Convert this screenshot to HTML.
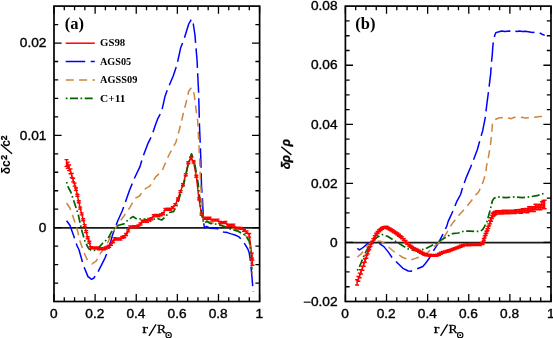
<!DOCTYPE html>
<html><head><meta charset="utf-8"><title>Sound speed and density differences</title>
<style>
html,body{margin:0;padding:0;background:#fff;}
body{width:553px;height:338px;overflow:hidden;position:relative;font-family:"Liberation Sans",sans-serif;}
</style></head><body>
<svg width="553" height="338" viewBox="0 0 553 338" style="display:block;position:absolute;left:0;top:0;will-change:transform">
<rect width="553" height="338" fill="#fff"/>
<path d="M54.0,227.85H259.6M345.4,242.64H551.0" stroke="#1a1a1a" stroke-width="1.6"/>
<path d="M66.5,163.0 L67.8,165.2 L69.1,167.8 L70.5,171.3 L71.8,175.6 L73.2,180.1 L74.6,184.6 L76.0,189.2 L77.4,195.3 L78.8,201.8 L80.2,208.1 L81.7,213.9 L83.2,219.8 L84.7,225.6 L86.2,231.6 L87.7,237.7 L89.3,242.2 L90.8,247.8 L92.4,247.9 L94.0,247.9 L95.6,248.0 L97.3,248.0 L98.9,248.7 L100.6,248.7 L102.3,248.9 L104.0,248.7 L105.7,248.0 L107.5,247.1 L109.2,246.2 L111.0,244.2 L112.9,241.8 L114.7,238.8 L116.5,239.0 L118.4,238.9 L120.3,239.0 L122.2,237.4 L124.2,236.7 L126.1,234.5 L128.1,230.9 L130.1,226.9 L132.1,226.9 L134.2,226.8 L136.3,226.9 L138.4,225.9 L140.5,224.0 L142.6,221.2 L144.8,221.1 L147.0,221.2 L149.2,219.4 L151.4,218.7 L153.7,215.7 L156.0,215.5 L158.3,215.7 L160.7,214.9 L163.0,213.7 L165.4,209.4 L167.9,209.3 L170.3,209.2 L172.8,207.6 L175.3,204.6 L177.9,199.0 L180.4,191.6 L183.0,184.7 L185.7,174.7 L188.3,162.8 L191.0,158.3 L193.6,162.0 L196.3,176.2 L198.9,198.9 L201.6,214.3 L204.2,218.3 L206.9,218.2 L209.5,218.2 L212.2,220.1 L214.8,220.1 L217.5,220.1 L220.1,222.5 L222.8,222.6 L225.4,222.5 L228.1,225.3 L230.7,225.3 L233.4,225.1 L236.0,228.1 L238.7,228.1 L241.3,228.4 L244.0,230.4 L246.6,232.0 L249.3,235.3 L251.9,255.6 L252.4,262.6" fill="none" stroke="#ff0000" stroke-width="1.5" stroke-linejoin="round"/>
<path d="M357.1,282.4 L358.4,278.9 L359.7,275.4 L361.0,271.8 L362.4,268.3 L363.7,264.4 L365.0,260.5 L366.4,256.8 L367.8,252.6 L369.2,248.8 L370.5,245.6 L371.9,242.5 L373.4,239.6 L374.8,236.8 L376.2,234.3 L377.6,232.5 L379.1,230.8 L380.6,229.5 L382.0,228.4 L383.5,227.6 L385.0,227.5 L386.5,227.3 L388.0,228.1 L389.6,229.0 L391.1,229.9 L392.6,230.8 L394.2,231.9 L395.8,232.9 L397.4,234.0 L399.0,235.3 L400.6,236.6 L402.2,237.9 L403.8,239.6 L405.5,241.5 L407.1,243.4 L408.8,245.1 L410.5,246.3 L412.1,247.4 L413.8,248.6 L415.6,249.4 L417.3,250.3 L419.0,251.2 L420.8,252.2 L422.6,253.2 L424.3,254.3 L426.1,254.8 L427.9,255.1 L429.7,255.3 L431.6,255.4 L433.4,255.4 L435.3,255.4 L437.2,255.1 L439.0,254.2 L440.9,253.2 L442.9,252.4 L444.8,251.9 L446.7,251.4 L448.7,250.8 L450.7,250.1 L452.6,249.4 L454.6,248.6 L456.7,247.9 L458.7,247.1 L460.7,246.3 L462.8,245.5 L464.9,244.9 L467.0,244.8 L469.1,244.7 L471.2,244.5 L473.3,244.5 L475.5,244.5 L477.6,244.5 L479.8,244.5 L482.0,243.5 L482.9,243.1 L483.8,239.8 L484.7,236.9 L485.6,234.5 L486.5,232.2 L487.4,229.8 L488.3,227.4 L489.2,224.9 L490.1,222.2 L491.0,219.5 L491.9,216.8 L492.8,214.9 L493.7,214.1 L494.6,213.3 L495.5,212.9 L497.1,212.4 L498.7,212.4 L500.3,212.4 L501.9,212.4 L503.5,212.0 L505.1,212.0 L506.7,212.0 L508.3,212.0 L509.9,211.9 L511.5,211.9 L513.1,211.9 L514.7,211.9 L516.3,211.5 L517.9,211.4 L519.5,211.2 L521.1,211.4 L522.7,210.6 L524.3,210.6 L525.9,210.5 L527.5,210.5 L529.1,209.0 L530.7,209.2 L532.3,209.1 L533.9,209.1 L535.5,206.9 L537.1,207.1 L538.7,207.2 L540.3,206.9 L541.9,204.7 L543.5,204.6 L544.6,204.5" fill="none" stroke="#ff0000" stroke-width="1.5" stroke-linejoin="round"/>
<path d="M66.6,220.7 L69.9,225.3 L73.5,235.2 L77.1,246.0 L78.9,249.5 L83.5,265.7 L88.0,276.6 L91.6,279.3 L93.9,278.0 L97.9,272.0 L105.2,257.6 L109.7,245.8 L112.4,235.2 L117.8,220.7 L122.3,210.8 L129.6,190.0 L135.0,177.0 L140.0,166.6 L142.7,157.5 L148.1,143.1 L151.8,135.8 L155.4,125.0 L157.9,118.3 L161.5,112.0 L165.2,95.7 L167.9,88.5 L173.3,75.8 L176.9,65.0 L180.6,48.1 L184.4,38.0 L188.7,24.0 L191.5,19.0 L193.3,24.0 L195.0,35.4 L195.8,45.6 L197.1,60.8 L197.8,76.0 L198.6,92.1 L199.5,126.0 L200.2,143.0 L200.9,161.2 L201.5,186.0 L202.4,198.0 L203.3,216.0 L204.0,225.3 L204.6,227.9 L206.6,226.4 L210.0,228.2 L216.6,228.6 L220.6,229.9 L223.3,231.9 L227.3,232.6 L231.2,233.9 L235.0,235.0 L238.6,236.6 L241.9,239.9 L245.2,244.6 L247.9,249.2 L249.2,252.8 L250.6,262.0 L251.8,275.2 L253.2,292.0" fill="none" stroke="#0000ff" stroke-width="1.50" stroke-linejoin="round" stroke-dasharray="19.5 5.5" stroke-dashoffset="0"/>
<path d="M66.6,203.0 L69.9,208.0 L73.5,218.0 L77.1,228.9 L79.8,240.4 L83.5,251.3 L87.0,259.4 L92.0,263.9 L96.1,261.2 L100.6,253.1 L106.0,245.8 L109.7,238.6 L112.4,232.5 L117.8,224.4 L123.2,217.0 L129.6,208.0 L133.0,202.0 L135.5,198.2 L139.5,196.0 L143.8,189.9 L147.4,187.5 L150.0,185.8 L155.7,176.9 L162.1,170.9 L164.0,166.2 L168.7,155.5 L175.8,142.5 L179.4,129.5 L181.8,120.0 L183.2,113.8 L186.0,103.0 L188.7,91.2 L191.4,87.6 L194.1,93.9 L195.9,108.4 L197.7,121.0 L198.8,143.0 L199.7,161.0 L200.6,183.0 L202.4,212.5 L203.8,222.0 L206.6,220.8 L211.3,222.8 L216.6,223.4 L224.6,226.1 L229.9,227.7 L237.9,230.4 L241.9,232.4 L246.0,235.8 L248.8,240.5 L250.2,248.0 L251.0,254.0 L252.4,273.8" fill="none" stroke="#cd853f" stroke-width="1.50" stroke-linejoin="round" stroke-dasharray="8 5.3" stroke-dashoffset="0"/>
<path d="M66.6,182.0 L68.1,187.0 L70.8,192.0 L74.4,202.7 L78.0,213.5 L81.6,229.8 L85.3,242.4 L88.9,248.8 L92.5,250.9 L97.0,249.6 L102.7,243.2 L108.0,238.6 L113.3,228.6 L118.6,225.3 L123.9,223.9 L128.6,219.3 L133.2,216.6 L137.2,219.3 L142.6,218.6 L150.5,221.3 L155.9,218.0 L161.7,220.0 L165.3,217.0 L168.9,212.5 L173.5,211.6 L177.0,205.3 L179.8,196.3 L182.5,187.2 L184.3,181.8 L186.5,172.0 L188.7,162.0 L191.5,153.9 L194.3,161.0 L196.5,174.0 L198.2,184.0 L200.6,207.0 L202.4,218.9 L203.3,221.3 L204.6,223.3 L206.6,221.3 L210.0,223.3 L215.3,224.0 L220.6,225.3 L225.9,227.3 L231.2,229.3 L237.9,231.3 L243.2,233.9 L246.5,236.6 L249.2,241.2 L250.5,247.9 L251.2,252.8 L251.8,269.6" fill="none" stroke="#006400" stroke-width="1.70" stroke-linejoin="round" stroke-dasharray="8.2 2.7 1.6 2.73" stroke-dashoffset="10.9"/>
<path d="M357.3,248.3 L359.5,249.9 L363.1,247.5 L367.6,243.6 L372.1,242.1 L378.5,243.0 L383.9,246.6 L388.4,252.1 L392.0,257.5 L396.5,262.0 L402.9,268.3 L408.3,271.0 L411.0,271.2 L417.3,268.7 L422.8,266.5 L425.0,264.0 L429.3,258.3 L433.7,250.3 L438.7,242.7 L442.4,235.1 L446.7,226.4 L448.1,221.6 L452.6,211.7 L457.1,200.8 L460.6,194.5 L461.9,189.9 L463.9,183.9 L466.6,176.6 L470.6,167.3 L473.2,160.6 L477.2,150.0 L480.0,140.0 L482.7,130.7 L485.3,117.3 L486.7,105.3 L488.8,89.3 L490.7,73.3 L491.3,64.2 L492.3,54.3 L492.9,45.6 L493.6,39.6 L494.9,35.0 L495.8,32.7 L498.2,31.9 L501.6,31.0 L504.9,31.6 L509.5,31.0 L511.5,31.9 L514.2,30.6 L516.9,31.6 L519.5,31.0 L522.2,31.6 L525.3,31.2 L532.6,32.5 L538.0,31.8 L541.6,34.0 L544.7,35.4" fill="none" stroke="#0000ff" stroke-width="1.50" stroke-linejoin="round" stroke-dasharray="19.5 5.5" stroke-dashoffset="0"/>
<path d="M357.3,257.0 L361.3,253.9 L365.8,247.5 L370.3,243.0 L374.8,241.2 L380.3,241.2 L383.9,243.0 L390.2,248.5 L395.6,253.0 L402.9,257.5 L410.1,260.2 L415.5,258.4 L422.8,255.7 L428.2,252.1 L432.2,248.2 L438.7,242.7 L445.3,235.1 L451.7,224.4 L458.9,215.3 L466.2,207.2 L473.4,198.1 L475.9,194.8 L478.6,191.9 L481.9,185.2 L483.9,179.3 L485.9,172.6 L486.5,166.0 L487.9,160.0 L489.2,152.7 L490.5,145.0 L491.5,134.7 L492.4,124.5 L494.1,120.0 L498.8,118.0 L506.7,117.2 L510.7,118.7 L514.7,117.3 L519.9,117.0 L525.5,118.0 L533.0,117.3 L540.5,116.6 L544.5,116.3" fill="none" stroke="#cd853f" stroke-width="1.50" stroke-linejoin="round" stroke-dasharray="8 5.3" stroke-dashoffset="0"/>
<path d="M357.3,270.5 L360.4,264.7 L363.1,257.5 L366.7,250.3 L371.2,243.0 L376.6,237.6 L382.1,234.5 L387.5,236.3 L393.8,240.3 L401.1,244.8 L408.3,249.0 L413.7,250.3 L419.1,250.3 L425.0,248.9 L430.8,246.0 L436.6,243.1 L440.9,240.2 L446.7,236.6 L452.5,233.7 L458.3,233.0 L464.1,231.1 L469.9,231.1 L475.7,231.5 L480.7,231.1 L482.9,229.3 L484.6,226.4 L487.0,221.6 L489.7,211.7 L492.4,200.8 L494.2,198.1 L497.8,196.9 L505.9,197.6 L515.0,196.9 L522.2,197.6 L530.0,196.8 L536.9,195.7 L544.2,193.3" fill="none" stroke="#006400" stroke-width="1.70" stroke-linejoin="round" stroke-dasharray="8 2.6 1.6 2.6" stroke-dashoffset="10.6"/>
<path d="M66.5,159.6V166.4M64.5,159.6H68.5M64.5,166.4H68.5M67.8,162.1V168.3M65.8,162.1H69.8M65.8,168.3H69.8M69.1,165.0V170.6M67.1,165.0H71.1M67.1,170.6H71.1M70.5,168.9V173.8M68.5,168.9H72.5M68.5,173.8H72.5M71.8,173.4V177.8M69.8,173.4H73.8M69.8,177.8H73.8M73.2,178.2V181.9M71.2,178.2H75.2M71.2,181.9H75.2M74.6,183.1V186.1M72.6,183.1H76.6M72.6,186.1H76.6M76.0,188.0V190.4M74.0,188.0H78.0M74.0,190.4H78.0M77.4,194.3V196.3M75.4,194.3H79.4M75.4,196.3H79.4M78.8,200.8V202.8M76.8,200.8H80.8M76.8,202.8H80.8M80.2,207.1V209.1M78.2,207.1H82.2M78.2,209.1H82.2M81.7,212.9V214.9M79.7,212.9H83.7M79.7,214.9H83.7M83.2,218.8V220.8M81.2,218.8H85.2M81.2,220.8H85.2M84.7,224.6V226.6M82.7,224.6H86.7M82.7,226.6H86.7M86.2,230.6V232.6M84.2,230.6H88.2M84.2,232.6H88.2M87.7,236.7V238.7M85.7,236.7H89.7M85.7,238.7H89.7M89.3,241.2V243.2M87.3,241.2H91.3M87.3,243.2H91.3M90.8,246.8V248.8M88.8,246.8H92.8M88.8,248.8H92.8M92.4,246.9V248.9M90.4,246.9H94.4M90.4,248.9H94.4M94.0,246.9V248.9M92.0,246.9H96.0M92.0,248.9H96.0M95.6,247.0V249.0M93.6,247.0H97.6M93.6,249.0H97.6M97.3,247.0V249.0M95.3,247.0H99.3M95.3,249.0H99.3M98.9,247.7V249.7M96.9,247.7H100.9M96.9,249.7H100.9M100.6,247.7V249.7M98.6,247.7H102.6M98.6,249.7H102.6M102.3,247.9V249.9M100.3,247.9H104.3M100.3,249.9H104.3M104.0,247.7V249.7M102.0,247.7H106.0M102.0,249.7H106.0M105.7,247.0V249.0M103.7,247.0H107.7M103.7,249.0H107.7M107.5,246.1V248.1M105.5,246.1H109.5M105.5,248.1H109.5M109.2,245.2V247.2M107.2,245.2H111.2M107.2,247.2H111.2M111.0,243.2V245.2M109.0,243.2H113.0M109.0,245.2H113.0M112.9,240.8V242.8M110.9,240.8H114.9M110.9,242.8H114.9M114.7,237.8V239.8M112.7,237.8H116.7M112.7,239.8H116.7M116.5,238.0V240.0M114.5,238.0H118.5M114.5,240.0H118.5M118.4,237.9V239.9M116.4,237.9H120.4M116.4,239.9H120.4M120.3,238.0V240.0M118.3,238.0H122.3M118.3,240.0H122.3M122.2,236.4V238.4M120.2,236.4H124.2M120.2,238.4H124.2M124.2,235.7V237.7M122.2,235.7H126.2M122.2,237.7H126.2M126.1,233.5V235.5M124.1,233.5H128.1M124.1,235.5H128.1M128.1,229.9V231.9M126.1,229.9H130.1M126.1,231.9H130.1M130.1,225.9V227.9M128.1,225.9H132.1M128.1,227.9H132.1M132.1,225.9V227.9M130.1,225.9H134.1M130.1,227.9H134.1M134.2,225.8V227.8M132.2,225.8H136.2M132.2,227.8H136.2M136.3,225.9V227.9M134.3,225.9H138.3M134.3,227.9H138.3M138.4,224.9V226.9M136.4,224.9H140.4M136.4,226.9H140.4M140.5,223.0V225.0M138.5,223.0H142.5M138.5,225.0H142.5M142.6,220.2V222.2M140.6,220.2H144.6M140.6,222.2H144.6M144.8,220.1V222.1M142.8,220.1H146.8M142.8,222.1H146.8M147.0,220.2V222.2M145.0,220.2H149.0M145.0,222.2H149.0M149.2,218.4V220.4M147.2,218.4H151.2M147.2,220.4H151.2M151.4,217.7V219.7M149.4,217.7H153.4M149.4,219.7H153.4M153.7,214.7V216.7M151.7,214.7H155.7M151.7,216.7H155.7M156.0,214.5V216.5M154.0,214.5H158.0M154.0,216.5H158.0M158.3,214.7V216.7M156.3,214.7H160.3M156.3,216.7H160.3M160.7,213.9V215.9M158.7,213.9H162.7M158.7,215.9H162.7M163.0,212.7V214.7M161.0,212.7H165.0M161.0,214.7H165.0M165.4,208.4V210.4M163.4,208.4H167.4M163.4,210.4H167.4M167.9,208.3V210.3M165.9,208.3H169.9M165.9,210.3H169.9M170.3,208.2V210.2M168.3,208.2H172.3M168.3,210.2H172.3M172.8,206.6V208.6M170.8,206.6H174.8M170.8,208.6H174.8M175.3,203.6V205.6M173.3,203.6H177.3M173.3,205.6H177.3M177.9,198.0V200.0M175.9,198.0H179.9M175.9,200.0H179.9M180.4,190.6V192.6M178.4,190.6H182.4M178.4,192.6H182.4M183.0,183.7V185.7M181.0,183.7H185.0M181.0,185.7H185.0M185.7,173.7V175.7M183.7,173.7H187.7M183.7,175.7H187.7M188.3,161.8V163.8M186.3,161.8H190.3M186.3,163.8H190.3M191.0,157.3V159.3M189.0,157.3H193.0M189.0,159.3H193.0M193.6,161.0V163.0M191.6,161.0H195.6M191.6,163.0H195.6M196.3,175.2V177.2M194.3,175.2H198.3M194.3,177.2H198.3M198.9,197.9V199.9M196.9,197.9H200.9M196.9,199.9H200.9M201.6,213.3V215.3M199.6,213.3H203.6M199.6,215.3H203.6M204.2,217.3V219.3M202.2,217.3H206.2M202.2,219.3H206.2M206.9,217.2V219.2M204.9,217.2H208.9M204.9,219.2H208.9M209.5,217.2V219.2M207.5,217.2H211.5M207.5,219.2H211.5M212.2,219.1V221.1M210.2,219.1H214.2M210.2,221.1H214.2M214.8,219.1V221.1M212.8,219.1H216.8M212.8,221.1H216.8M217.5,219.1V221.1M215.5,219.1H219.5M215.5,221.1H219.5M220.1,221.5V223.5M218.1,221.5H222.1M218.1,223.5H222.1M222.8,221.6V223.6M220.8,221.6H224.8M220.8,223.6H224.8M225.4,221.5V223.5M223.4,221.5H227.4M223.4,223.5H227.4M228.1,224.3V226.3M226.1,224.3H230.1M226.1,226.3H230.1M230.7,224.3V226.3M228.7,224.3H232.7M228.7,226.3H232.7M233.4,224.1V226.1M231.4,224.1H235.4M231.4,226.1H235.4M236.0,227.1V229.1M234.0,227.1H238.0M234.0,229.1H238.0M238.7,227.1V229.1M236.7,227.1H240.7M236.7,229.1H240.7M241.3,227.4V229.4M239.3,227.4H243.3M239.3,229.4H243.3M244.0,229.4V231.4M242.0,229.4H246.0M242.0,231.4H246.0M246.6,230.9V233.2M244.6,230.9H248.6M244.6,233.2H248.6M249.3,233.5V237.1M247.3,233.5H251.3M247.3,237.1H251.3M251.9,253.1V258.0M249.9,253.1H253.9M249.9,258.0H253.9M252.4,260.0V265.2M250.4,260.0H254.4M250.4,265.2H254.4" fill="none" stroke="#ff0000" stroke-width="1.4"/>
<path d="M357.1,279.8V285.0M355.1,279.8H359.1M355.1,285.0H359.1M358.4,276.5V281.3M356.4,276.5H360.4M356.4,281.3H360.4M359.7,273.1V277.7M357.7,273.1H361.7M357.7,277.7H361.7M361.0,269.7V274.0M359.0,269.7H363.0M359.0,274.0H363.0M362.4,266.3V270.2M360.4,266.3H364.4M360.4,270.2H364.4M363.7,262.6V266.2M361.7,262.6H365.7M361.7,266.2H365.7M365.0,258.8V262.1M363.0,258.8H367.0M363.0,262.1H367.0M366.4,255.3V258.3M364.4,255.3H368.4M364.4,258.3H368.4M367.8,251.3V253.9M365.8,251.3H369.8M365.8,253.9H369.8M369.2,247.8V249.8M367.2,247.8H371.2M367.2,249.8H371.2M370.5,244.6V246.6M368.5,244.6H372.5M368.5,246.6H372.5M371.9,241.5V243.5M369.9,241.5H373.9M369.9,243.5H373.9M373.4,238.6V240.6M371.4,238.6H375.4M371.4,240.6H375.4M374.8,235.8V237.8M372.8,235.8H376.8M372.8,237.8H376.8M376.2,233.3V235.3M374.2,233.3H378.2M374.2,235.3H378.2M377.6,231.5V233.5M375.6,231.5H379.6M375.6,233.5H379.6M379.1,229.8V231.8M377.1,229.8H381.1M377.1,231.8H381.1M380.6,228.5V230.5M378.6,228.5H382.6M378.6,230.5H382.6M382.0,227.4V229.4M380.0,227.4H384.0M380.0,229.4H384.0M383.5,226.6V228.6M381.5,226.6H385.5M381.5,228.6H385.5M385.0,226.5V228.5M383.0,226.5H387.0M383.0,228.5H387.0M386.5,226.3V228.3M384.5,226.3H388.5M384.5,228.3H388.5M388.0,227.1V229.1M386.0,227.1H390.0M386.0,229.1H390.0M389.6,228.0V230.0M387.6,228.0H391.6M387.6,230.0H391.6M391.1,228.9V230.9M389.1,228.9H393.1M389.1,230.9H393.1M392.6,229.8V231.8M390.6,229.8H394.6M390.6,231.8H394.6M394.2,230.9V232.9M392.2,230.9H396.2M392.2,232.9H396.2M395.8,231.9V233.9M393.8,231.9H397.8M393.8,233.9H397.8M397.4,233.0V235.0M395.4,233.0H399.4M395.4,235.0H399.4M399.0,234.3V236.3M397.0,234.3H401.0M397.0,236.3H401.0M400.6,235.6V237.6M398.6,235.6H402.6M398.6,237.6H402.6M402.2,236.9V238.9M400.2,236.9H404.2M400.2,238.9H404.2M403.8,238.6V240.6M401.8,238.6H405.8M401.8,240.6H405.8M405.5,240.5V242.5M403.5,240.5H407.5M403.5,242.5H407.5M407.1,242.4V244.4M405.1,242.4H409.1M405.1,244.4H409.1M408.8,244.1V246.1M406.8,244.1H410.8M406.8,246.1H410.8M410.5,245.3V247.3M408.5,245.3H412.5M408.5,247.3H412.5M412.1,246.4V248.4M410.1,246.4H414.1M410.1,248.4H414.1M413.8,247.6V249.6M411.8,247.6H415.8M411.8,249.6H415.8M415.6,248.4V250.4M413.6,248.4H417.6M413.6,250.4H417.6M417.3,249.3V251.3M415.3,249.3H419.3M415.3,251.3H419.3M419.0,250.2V252.2M417.0,250.2H421.0M417.0,252.2H421.0M420.8,251.2V253.2M418.8,251.2H422.8M418.8,253.2H422.8M422.6,252.2V254.2M420.6,252.2H424.6M420.6,254.2H424.6M424.3,253.3V255.3M422.3,253.3H426.3M422.3,255.3H426.3M426.1,253.8V255.8M424.1,253.8H428.1M424.1,255.8H428.1M427.9,254.1V256.1M425.9,254.1H429.9M425.9,256.1H429.9M429.7,254.3V256.3M427.7,254.3H431.7M427.7,256.3H431.7M431.6,254.4V256.4M429.6,254.4H433.6M429.6,256.4H433.6M433.4,254.4V256.4M431.4,254.4H435.4M431.4,256.4H435.4M435.3,254.4V256.4M433.3,254.4H437.3M433.3,256.4H437.3M437.2,254.1V256.1M435.2,254.1H439.2M435.2,256.1H439.2M439.0,253.2V255.2M437.0,253.2H441.0M437.0,255.2H441.0M440.9,252.2V254.2M438.9,252.2H442.9M438.9,254.2H442.9M442.9,251.4V253.4M440.9,251.4H444.9M440.9,253.4H444.9M444.8,250.9V252.9M442.8,250.9H446.8M442.8,252.9H446.8M446.7,250.4V252.4M444.7,250.4H448.7M444.7,252.4H448.7M448.7,249.8V251.8M446.7,249.8H450.7M446.7,251.8H450.7M450.7,249.1V251.1M448.7,249.1H452.7M448.7,251.1H452.7M452.6,248.4V250.4M450.6,248.4H454.6M450.6,250.4H454.6M454.6,247.6V249.6M452.6,247.6H456.6M452.6,249.6H456.6M456.7,246.9V248.9M454.7,246.9H458.7M454.7,248.9H458.7M458.7,246.1V248.1M456.7,246.1H460.7M456.7,248.1H460.7M460.7,245.3V247.3M458.7,245.3H462.7M458.7,247.3H462.7M462.8,244.5V246.5M460.8,244.5H464.8M460.8,246.5H464.8M464.9,243.9V245.9M462.9,243.9H466.9M462.9,245.9H466.9M467.0,243.8V245.8M465.0,243.8H469.0M465.0,245.8H469.0M469.1,243.7V245.7M467.1,243.7H471.1M467.1,245.7H471.1M471.2,243.5V245.5M469.2,243.5H473.2M469.2,245.5H473.2M473.3,243.5V245.5M471.3,243.5H475.3M471.3,245.5H475.3M475.5,243.5V245.5M473.5,243.5H477.5M473.5,245.5H477.5M477.6,243.5V245.5M475.6,243.5H479.6M475.6,245.5H479.6M479.8,243.5V245.5M477.8,243.5H481.8M477.8,245.5H481.8M482.0,242.5V244.5M480.0,242.5H484.0M480.0,244.5H484.0M482.9,242.1V244.1M480.9,242.1H484.9M480.9,244.1H484.9M483.8,238.8V240.8M481.8,238.8H485.8M481.8,240.8H485.8M484.7,235.9V237.9M482.7,235.9H486.7M482.7,237.9H486.7M485.6,233.5V235.5M483.6,233.5H487.6M483.6,235.5H487.6M486.5,231.2V233.2M484.5,231.2H488.5M484.5,233.2H488.5M487.4,228.8V230.8M485.4,228.8H489.4M485.4,230.8H489.4M488.3,226.4V228.4M486.3,226.4H490.3M486.3,228.4H490.3M489.2,223.9V225.9M487.2,223.9H491.2M487.2,225.9H491.2M490.1,220.5V223.9M488.1,220.5H492.1M488.1,223.9H492.1M491.0,217.8V221.2M489.0,217.8H493.0M489.0,221.2H493.0M491.9,215.1V218.5M489.9,215.1H493.9M489.9,218.5H493.9M492.8,213.2V216.6M490.8,213.2H494.8M490.8,216.6H494.8M493.7,212.4V215.8M491.7,212.4H495.7M491.7,215.8H495.7M494.6,211.6V215.0M492.6,211.6H496.6M492.6,215.0H496.6M495.5,211.2V214.6M493.5,211.2H497.5M493.5,214.6H497.5M497.1,210.7V214.1M495.1,210.7H499.1M495.1,214.1H499.1M498.7,210.7V214.1M496.7,210.7H500.7M496.7,214.1H500.7M500.3,210.7V214.1M498.3,210.7H502.3M498.3,214.1H502.3M501.9,210.7V214.1M499.9,210.7H503.9M499.9,214.1H503.9M503.5,210.3V213.7M501.5,210.3H505.5M501.5,213.7H505.5M505.1,210.3V213.7M503.1,210.3H507.1M503.1,213.7H507.1M506.7,210.3V213.7M504.7,210.3H508.7M504.7,213.7H508.7M508.3,210.3V213.7M506.3,210.3H510.3M506.3,213.7H510.3M509.9,210.2V213.6M507.9,210.2H511.9M507.9,213.6H511.9M511.5,210.2V213.6M509.5,210.2H513.5M509.5,213.6H513.5M513.1,210.2V213.6M511.1,210.2H515.1M511.1,213.6H515.1M514.7,210.2V213.6M512.7,210.2H516.7M512.7,213.6H516.7M516.3,209.8V213.1M514.3,209.8H518.3M514.3,213.1H518.3M517.9,209.7V213.1M515.9,209.7H519.9M515.9,213.1H519.9M519.5,209.4V213.0M517.5,209.4H521.5M517.5,213.0H521.5M521.1,209.6V213.3M519.1,209.6H523.1M519.1,213.3H523.1M522.7,208.7V212.6M520.7,208.7H524.7M520.7,212.6H524.7M524.3,208.6V212.6M522.3,208.6H526.3M522.3,212.6H526.3M525.9,208.4V212.6M523.9,208.4H527.9M523.9,212.6H527.9M527.5,208.4V212.7M525.5,208.4H529.5M525.5,212.7H529.5M529.1,206.8V211.3M527.1,206.8H531.1M527.1,211.3H531.1M530.7,206.9V211.5M528.7,206.9H532.7M528.7,211.5H532.7M532.3,206.7V211.5M530.3,206.7H534.3M530.3,211.5H534.3M533.9,206.6V211.5M531.9,206.6H535.9M531.9,211.5H535.9M535.5,204.3V209.4M533.5,204.3H537.5M533.5,209.4H537.5M537.1,204.5V209.8M535.1,204.5H539.1M535.1,209.8H539.1M538.7,204.5V209.9M536.7,204.5H540.7M536.7,209.9H540.7M540.3,204.1V209.7M538.3,204.1H542.3M538.3,209.7H542.3M541.9,201.8V207.5M539.9,201.8H543.9M539.9,207.5H543.9M543.5,200.4V208.8M541.5,200.4H545.5M541.5,208.8H545.5M544.6,200.3V208.7M542.6,200.3H546.6M542.6,208.7H546.6" fill="none" stroke="#ff0000" stroke-width="1.4"/>
<rect x="54.0" y="6.1" width="205.6" height="295.4" fill="none" stroke="#000" stroke-width="1.7"/>
<rect x="345.4" y="6.1" width="205.6" height="295.4" fill="none" stroke="#000" stroke-width="1.7"/>
<path d="M54.00,6.1v7.6M54.00,301.5v-7.6M64.28,6.1v4.2M64.28,301.5v-4.2M74.56,6.1v4.2M74.56,301.5v-4.2M84.84,6.1v4.2M84.84,301.5v-4.2M95.12,6.1v7.6M95.12,301.5v-7.6M105.40,6.1v4.2M105.40,301.5v-4.2M115.68,6.1v4.2M115.68,301.5v-4.2M125.96,6.1v4.2M125.96,301.5v-4.2M136.24,6.1v7.6M136.24,301.5v-7.6M146.52,6.1v4.2M146.52,301.5v-4.2M156.80,6.1v4.2M156.80,301.5v-4.2M167.08,6.1v4.2M167.08,301.5v-4.2M177.36,6.1v7.6M177.36,301.5v-7.6M187.64,6.1v4.2M187.64,301.5v-4.2M197.92,6.1v4.2M197.92,301.5v-4.2M208.20,6.1v4.2M208.20,301.5v-4.2M218.48,6.1v7.6M218.48,301.5v-7.6M228.76,6.1v4.2M228.76,301.5v-4.2M239.04,6.1v4.2M239.04,301.5v-4.2M249.32,6.1v4.2M249.32,301.5v-4.2M259.60,6.1v7.6M259.60,301.5v-7.6M54.0,227.65h7.6M259.6,227.65h-7.6M54.0,135.34h7.6M259.6,135.34h-7.6M54.0,43.03h7.6M259.6,43.03h-7.6M54.0,283.04h4.2M259.6,283.04h-4.2M54.0,264.58h4.2M259.6,264.58h-4.2M54.0,246.11h4.2M259.6,246.11h-4.2M54.0,209.19h4.2M259.6,209.19h-4.2M54.0,190.73h4.2M259.6,190.73h-4.2M54.0,172.27h4.2M259.6,172.27h-4.2M54.0,153.80h4.2M259.6,153.80h-4.2M54.0,116.88h4.2M259.6,116.88h-4.2M54.0,98.42h4.2M259.6,98.42h-4.2M54.0,79.96h4.2M259.6,79.96h-4.2M54.0,61.49h4.2M259.6,61.49h-4.2M54.0,24.57h4.2M259.6,24.57h-4.2" stroke="#000" stroke-width="1.3" fill="none"/>
<path d="M345.40,6.1v7.6M345.40,301.5v-7.6M355.68,6.1v4.2M355.68,301.5v-4.2M365.96,6.1v4.2M365.96,301.5v-4.2M376.24,6.1v4.2M376.24,301.5v-4.2M386.52,6.1v7.6M386.52,301.5v-7.6M396.80,6.1v4.2M396.80,301.5v-4.2M407.08,6.1v4.2M407.08,301.5v-4.2M417.36,6.1v4.2M417.36,301.5v-4.2M427.64,6.1v7.6M427.64,301.5v-7.6M437.92,6.1v4.2M437.92,301.5v-4.2M448.20,6.1v4.2M448.20,301.5v-4.2M458.48,6.1v4.2M458.48,301.5v-4.2M468.76,6.1v7.6M468.76,301.5v-7.6M479.04,6.1v4.2M479.04,301.5v-4.2M489.32,6.1v4.2M489.32,301.5v-4.2M499.60,6.1v4.2M499.60,301.5v-4.2M509.88,6.1v7.6M509.88,301.5v-7.6M520.16,6.1v4.2M520.16,301.5v-4.2M530.44,6.1v4.2M530.44,301.5v-4.2M540.72,6.1v4.2M540.72,301.5v-4.2M551.00,6.1v7.6M551.00,301.5v-7.6M345.4,242.44h7.6M551.0,242.44h-7.6M345.4,183.38h7.6M551.0,183.38h-7.6M345.4,124.32h7.6M551.0,124.32h-7.6M345.4,65.26h7.6M551.0,65.26h-7.6M345.4,286.74h4.2M551.0,286.74h-4.2M345.4,271.97h4.2M551.0,271.97h-4.2M345.4,257.20h4.2M551.0,257.20h-4.2M345.4,227.68h4.2M551.0,227.68h-4.2M345.4,212.91h4.2M551.0,212.91h-4.2M345.4,198.14h4.2M551.0,198.14h-4.2M345.4,168.62h4.2M551.0,168.62h-4.2M345.4,153.85h4.2M551.0,153.85h-4.2M345.4,139.08h4.2M551.0,139.08h-4.2M345.4,109.56h4.2M551.0,109.56h-4.2M345.4,94.79h4.2M551.0,94.79h-4.2M345.4,80.03h4.2M551.0,80.03h-4.2M345.4,50.49h4.2M551.0,50.49h-4.2M345.4,35.73h4.2M551.0,35.73h-4.2M345.4,20.96h4.2M551.0,20.96h-4.2" stroke="#000" stroke-width="1.3" fill="none"/>
<path d="M65.7,43.2H94.8" stroke="#ff0000" stroke-width="1.5"/>
<path d="M65.7,61.6H94.8" stroke="#0000ff" stroke-width="1.5" stroke-dasharray="19.5 5.5"/>
<path d="M65.8,80.0H95" stroke="#cd853f" stroke-width="1.6" stroke-dasharray="8 5.3"/>
<path d="M65.8,98.4H94.8" stroke="#006400" stroke-width="1.7" stroke-dasharray="1.7 2.5 8 2.5"/>
<text x="100" y="46.4" font-family="Liberation Serif, serif" font-weight="bold" font-size="10.7px" textLength="25.2" lengthAdjust="spacingAndGlyphs" fill="#000">GS98</text>
<text x="100" y="64.8" font-family="Liberation Serif, serif" font-weight="bold" font-size="10.7px" textLength="31.2" lengthAdjust="spacingAndGlyphs" fill="#000">AGS05</text>
<text x="100" y="83.2" font-family="Liberation Serif, serif" font-weight="bold" font-size="10.7px" textLength="37.3" lengthAdjust="spacingAndGlyphs" fill="#000">AGSS09</text>
<text x="100" y="101.6" font-family="Liberation Serif, serif" font-weight="bold" font-size="10.7px" textLength="25.4" lengthAdjust="spacingAndGlyphs" fill="#000">C+11</text>
<text transform="translate(53.70,317.70) scale(1.140,1)" text-anchor="middle" font-family="Liberation Sans, sans-serif" font-size="12px" fill="#000" stroke="#000" stroke-width="0.35">0</text>
<text transform="translate(94.82,317.70) scale(1.140,1)" text-anchor="middle" font-family="Liberation Sans, sans-serif" font-size="12px" fill="#000" stroke="#000" stroke-width="0.35">0.2</text>
<text transform="translate(135.94,317.70) scale(1.140,1)" text-anchor="middle" font-family="Liberation Sans, sans-serif" font-size="12px" fill="#000" stroke="#000" stroke-width="0.35">0.4</text>
<text transform="translate(177.06,317.70) scale(1.140,1)" text-anchor="middle" font-family="Liberation Sans, sans-serif" font-size="12px" fill="#000" stroke="#000" stroke-width="0.35">0.6</text>
<text transform="translate(218.18,317.70) scale(1.140,1)" text-anchor="middle" font-family="Liberation Sans, sans-serif" font-size="12px" fill="#000" stroke="#000" stroke-width="0.35">0.8</text>
<text transform="translate(259.30,317.70) scale(1.140,1)" text-anchor="middle" font-family="Liberation Sans, sans-serif" font-size="12px" fill="#000" stroke="#000" stroke-width="0.35">1</text>
<text transform="translate(345.10,317.70) scale(1.140,1)" text-anchor="middle" font-family="Liberation Sans, sans-serif" font-size="12px" fill="#000" stroke="#000" stroke-width="0.35">0</text>
<text transform="translate(386.22,317.70) scale(1.140,1)" text-anchor="middle" font-family="Liberation Sans, sans-serif" font-size="12px" fill="#000" stroke="#000" stroke-width="0.35">0.2</text>
<text transform="translate(427.34,317.70) scale(1.140,1)" text-anchor="middle" font-family="Liberation Sans, sans-serif" font-size="12px" fill="#000" stroke="#000" stroke-width="0.35">0.4</text>
<text transform="translate(468.46,317.70) scale(1.140,1)" text-anchor="middle" font-family="Liberation Sans, sans-serif" font-size="12px" fill="#000" stroke="#000" stroke-width="0.35">0.6</text>
<text transform="translate(509.58,317.70) scale(1.140,1)" text-anchor="middle" font-family="Liberation Sans, sans-serif" font-size="12px" fill="#000" stroke="#000" stroke-width="0.35">0.8</text>
<text transform="translate(550.70,317.70) scale(1.140,1)" text-anchor="middle" font-family="Liberation Sans, sans-serif" font-size="12px" fill="#000" stroke="#000" stroke-width="0.35">1</text>
<text transform="translate(46.40,231.95) scale(1.140,1)" text-anchor="end" font-family="Liberation Sans, sans-serif" font-size="12px" fill="#000" stroke="#000" stroke-width="0.35">0</text>
<text transform="translate(46.40,139.64) scale(1.140,1)" text-anchor="end" font-family="Liberation Sans, sans-serif" font-size="12px" fill="#000" stroke="#000" stroke-width="0.35">0.01</text>
<text transform="translate(46.40,47.33) scale(1.140,1)" text-anchor="end" font-family="Liberation Sans, sans-serif" font-size="12px" fill="#000" stroke="#000" stroke-width="0.35">0.02</text>
<text transform="translate(337.50,305.70) scale(1.140,1)" text-anchor="end" font-family="Liberation Sans, sans-serif" font-size="12px" fill="#000" stroke="#000" stroke-width="0.35">−0.02</text>
<text transform="translate(337.50,246.64) scale(1.140,1)" text-anchor="end" font-family="Liberation Sans, sans-serif" font-size="12px" fill="#000" stroke="#000" stroke-width="0.35">0</text>
<text transform="translate(337.50,187.58) scale(1.140,1)" text-anchor="end" font-family="Liberation Sans, sans-serif" font-size="12px" fill="#000" stroke="#000" stroke-width="0.35">0.02</text>
<text transform="translate(337.50,128.52) scale(1.140,1)" text-anchor="end" font-family="Liberation Sans, sans-serif" font-size="12px" fill="#000" stroke="#000" stroke-width="0.35">0.04</text>
<text transform="translate(337.50,69.46) scale(1.140,1)" text-anchor="end" font-family="Liberation Sans, sans-serif" font-size="12px" fill="#000" stroke="#000" stroke-width="0.35">0.06</text>
<text transform="translate(337.50,10.40) scale(1.140,1)" text-anchor="end" font-family="Liberation Sans, sans-serif" font-size="12px" fill="#000" stroke="#000" stroke-width="0.35">0.08</text>
<text x="64.7" y="28.8" font-family="Liberation Serif, serif" font-weight="bold" font-size="16.5px" fill="#000">(a)</text>
<text x="355.3" y="28.8" font-family="Liberation Serif, serif" font-weight="bold" font-size="16.5px" fill="#000">(b)</text>
<path d="M149.0,335.9L156.0,324.4" stroke="#000" stroke-width="1.3" fill="none"/><text transform="translate(145.0,333.4) scale(1.25,1)" text-anchor="middle" font-family="Liberation Serif, serif" font-size="13.5px" fill="#000" stroke="#000" stroke-width="0.3">r</text><text transform="translate(161.5,333.4) scale(1.10,1)" text-anchor="middle" font-family="Liberation Serif, serif" font-size="12.3px" fill="#000" stroke="#000" stroke-width="0.3">R</text><circle cx="168.6" cy="335.2" r="2.7" fill="none" stroke="#000" stroke-width="1.1"/><circle cx="168.6" cy="335.2" r="0.9" fill="#000"/>
<path d="M440.6,335.9L447.6,324.4" stroke="#000" stroke-width="1.3" fill="none"/><text transform="translate(436.6,333.4) scale(1.25,1)" text-anchor="middle" font-family="Liberation Serif, serif" font-size="13.5px" fill="#000" stroke="#000" stroke-width="0.3">r</text><text transform="translate(453.1,333.4) scale(1.10,1)" text-anchor="middle" font-family="Liberation Serif, serif" font-size="12.3px" fill="#000" stroke="#000" stroke-width="0.3">R</text><circle cx="460.2" cy="335.2" r="2.7" fill="none" stroke="#000" stroke-width="1.1"/><circle cx="460.2" cy="335.2" r="0.9" fill="#000"/>
<g transform="translate(10.1,173.9) rotate(-90)"><text x="-0.3" y="0.0" font-family="Liberation Sans, sans-serif" font-weight="bold" font-size="12.2px" fill="#000" >δ</text><text x="7.0" y="0.0" font-family="Liberation Sans, sans-serif" font-weight="bold" font-size="12.2px" fill="#000" >c</text><text x="14.2" y="-3.4" font-family="Liberation Sans, sans-serif" font-weight="bold" font-size="8.6px" fill="#000" stroke="#000" stroke-width="0.3">2</text><path d="M20.2,2.0L29.4,-9.2" stroke="#000" stroke-width="1.4" fill="none"/><text x="27.1" y="0.0" font-family="Liberation Sans, sans-serif" font-weight="bold" font-size="12.2px" fill="#000" >c</text><text x="33.6" y="-3.4" font-family="Liberation Sans, sans-serif" font-weight="bold" font-size="8.6px" fill="#000" stroke="#000" stroke-width="0.3">2</text></g>
<g transform="translate(289.8,168.7) rotate(-90)"><text x="-0.5" y="0.0" font-family="Liberation Sans, sans-serif" font-weight="bold" font-size="12.3px" fill="#000" font-style="italic" stroke="#000" stroke-width="0.35">δ</text><text x="6.1" y="0.0" font-family="Liberation Sans, sans-serif" font-weight="bold" font-size="12.3px" fill="#000" font-style="italic" stroke="#000" stroke-width="0.35">ρ</text><path d="M13.8,1.6L22.0,-8.5" stroke="#000" stroke-width="1.4" fill="none"/><text x="22.3" y="0.0" font-family="Liberation Sans, sans-serif" font-weight="bold" font-size="12.3px" fill="#000" font-style="italic" stroke="#000" stroke-width="0.35">ρ</text></g>
</svg>
</body></html>
